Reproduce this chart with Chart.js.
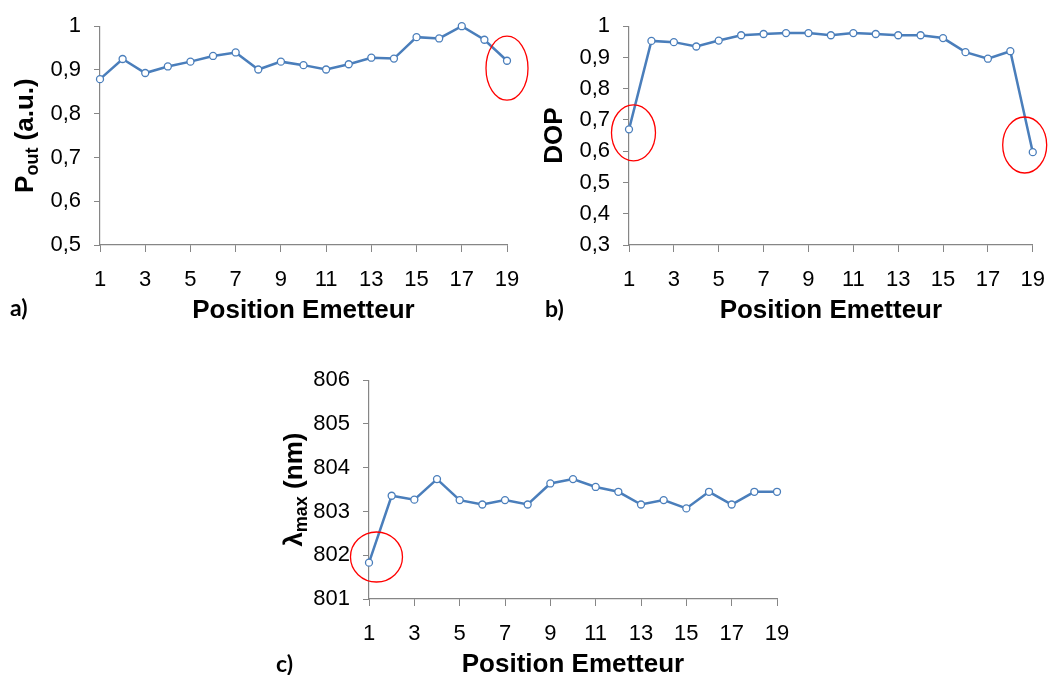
<!DOCTYPE html>
<html>
<head>
<meta charset="utf-8">
<script src="https://cdn.jsdelivr.net/npm/chart.js@4.4.1/dist/chart.umd.min.js"></script>
<style>
  body { margin: 0; width: 1060px; height: 675px; position: relative; overflow: hidden; background: #fff; }
  .box { position: absolute; }
  .lbl { position: absolute; font: bold 23px Lato, sans-serif; line-height: 23px; color: #000; }
</style>
</head>
<body>
<div class="box" style="left:0;top:0"><canvas id="chartA" width="540" height="325"></canvas></div>
<div class="box" style="left:529px;top:0"><canvas id="chartB" width="531" height="325"></canvas></div>
<div class="box" style="left:269px;top:354px"><canvas id="chartC" width="540" height="325"></canvas></div>
<div class="lbl" style="left:10px;top:296px">a)</div>
<div class="lbl" style="left:545px;top:297px">b)</div>
<div class="lbl" style="left:276px;top:652px">c)</div>
<script>
const positions = [1, 2, 3, 4, 5, 6, 7, 8, 9, 10, 11, 12, 13, 14, 15, 16, 17, 18, 19];
const poutValues = [0.879, 0.925, 0.893, 0.908, 0.919, 0.932, 0.940, 0.901, 0.919, 0.911, 0.901, 0.913, 0.928, 0.926, 0.975, 0.972, 1.0, 0.969, 0.921];
const dopValues = [0.670, 0.953, 0.949, 0.935, 0.954, 0.971, 0.975, 0.978, 0.978, 0.971, 0.978, 0.975, 0.971, 0.971, 0.962, 0.917, 0.896, 0.920, 0.597];
const lambdaValues = [801.83, 803.36, 803.27, 803.74, 803.26, 803.16, 803.26, 803.16, 803.64, 803.74, 803.56, 803.45, 803.16, 803.26, 803.07, 803.45, 803.16, 803.45, 803.45];
const xTicks = [1, 3, 5, 7, 9, 11, 13, 15, 17, 19];

const bleu = "#4a7ebb";
const gris = "#868686";
const police = '"Liberation Sans", Arial, sans-serif';

// titres d'axes + ellipses rouges
const annotations = {
  id: "annotations",
  afterDraw(chart, args, opts) {
    const { ctx, chartArea, scales } = chart;
    ctx.save();
    ctx.fillStyle = "#000";
    ctx.font = "bold 26px " + police;
    ctx.textAlign = "center";
    ctx.textBaseline = "alphabetic";
    ctx.fillText(opts.xTitle, (chartArea.left + chartArea.right) / 2, chartArea.bottom + 73);

    const segs = opts.yTitle;
    const fontOf = (s) => "bold " + (s.sub ? 18 : 26) + "px " + police;
    let total = 0;
    segs.forEach((s) => {
      ctx.font = fontOf(s);
      s.w = ctx.measureText(s.text).width;
      total += s.w;
    });
    ctx.translate(chartArea.left - 67, (chartArea.top + chartArea.bottom) / 2);
    ctx.rotate(-Math.PI / 2);
    ctx.textAlign = "left";
    let x = -total / 2;
    segs.forEach((s) => {
      ctx.font = fontOf(s);
      ctx.fillText(s.text, x, s.sub ? 5 : 0);
      x += s.w;
    });
    ctx.restore();

    ctx.save();
    ctx.strokeStyle = "#ff0000";
    ctx.lineWidth = 1.3;
    opts.ellipses.forEach((e) => {
      ctx.beginPath();
      ctx.ellipse(scales.x.getPixelForValue(e.x), scales.y.getPixelForValue(e.y), e.rx, e.ry, 0, 0, Math.PI * 2);
      ctx.stroke();
    });
    ctx.restore();
  },
};

const faireChart = (id, values, yMin, yMax, yStep, fmt, xTitle, yTitle, ellipses, padRight) => {
  new Chart(document.getElementById(id), {
    type: "line",
    data: {
      datasets: [
        {
          data: positions.map((p, i) => ({ x: p, y: values[i] })),
          borderColor: bleu,
          borderWidth: 2.5,
          pointRadius: 3.5,
          pointBorderWidth: 1.3,
          pointBackgroundColor: "#fff",
          pointBorderColor: bleu,
          tension: 0,
          clip: false,
        },
      ],
    },
    options: {
      responsive: false,
      animation: false,
      layout: { padding: { top: 21, right: padRight, left: 0, bottom: 0 } },
      plugins: {
        legend: { display: false },
        tooltip: { enabled: false },
        annotations: { xTitle: xTitle, yTitle: yTitle, ellipses: ellipses },
      },
      scales: {
        x: {
          type: "linear",
          min: 1,
          max: 19,
          afterBuildTicks: (s) => { s.ticks = xTicks.map((v) => ({ value: v })); },
          afterFit: (s) => { s.height = 80; },
          grid: { drawOnChartArea: false, drawTicks: true, tickLength: 7, color: gris },
          border: { color: gris, width: 1.2 },
          ticks: { color: "#000", font: { family: police, size: 22 }, padding: 15, maxRotation: 0 },
        },
        y: {
          min: yMin,
          max: yMax,
          ticks: { stepSize: yStep, color: "#000", font: { family: police, size: 22 }, padding: 13, callback: fmt },
          afterFit: (s) => { s.width = 100; },
          grid: { drawOnChartArea: false, drawTicks: true, tickLength: 6, color: gris },
          border: { color: gris, width: 1.2 },
        },
      },
    },
    plugins: [annotations],
  });
};

const virgule = (v) => (Math.round(v * 10) / 10).toString().replace(".", ",");
const entier = (v) => Math.round(v).toString();

faireChart("chartA", poutValues, 0.5, 1, 0.1, virgule, "Position Emetteur",
  [{ text: "P" }, { text: "out", sub: true }, { text: " (a.u.)" }],
  [{ x: 19, y: 0.904, rx: 21, ry: 32 }], 33);

faireChart("chartB", dopValues, 0.3, 1, 0.1, virgule, "Position Emetteur",
  [{ text: "DOP" }],
  [{ x: 1.2, y: 0.659, rx: 22, ry: 28 }, { x: 18.64, y: 0.62, rx: 22, ry: 28 }], 20);

faireChart("chartC", lambdaValues, 801, 806, 1, entier, "Position Emetteur",
  [{ text: "λ" }, { text: "max", sub: true }, { text: " (nm)" }],
  [{ x: 1.33, y: 801.96, rx: 26, ry: 25 }], 32);
</script>
</body>
</html>
